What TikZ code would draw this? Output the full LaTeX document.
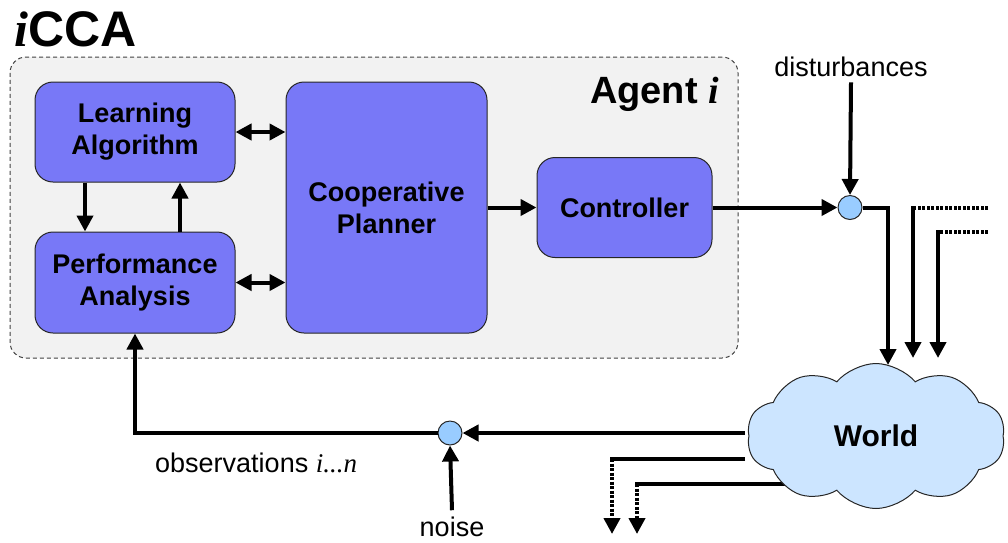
\documentclass[tikz,border=0pt]{standalone}
\usepackage{fontspec}
\setmainfont{Liberation Sans}
\newfontfamily\tnr{Liberation Serif}
\usetikzlibrary{arrows.meta,shapes.symbols,shapes.geometric}
\definecolor{boxblue}{RGB}{120,120,247}
\definecolor{sumblue}{RGB}{153,204,255}
\definecolor{cloudblue}{RGB}{204,229,255}
\definecolor{agentgray}{RGB}{242,242,242}
\tikzset{
  block/.style={draw=black!85,line width=1pt,fill=boxblue,rounded corners=18pt,align=center,
    font=\bfseries\fontsize{27}{32}\selectfont,inner sep=0pt},
  sumnode/.style={circle,draw=black!85,line width=1pt,fill=sumblue,minimum size=24pt,inner sep=0pt},
  tip/.style={-{Triangle[length=16pt,width=16pt]}},
  conn/.style={line width=4pt,tip},
  biconn/.style={line width=4pt,{Triangle[length=16pt,width=16pt]}-{Triangle[length=16pt,width=16pt]}},
  plainline/.style={line width=4pt},
  dotline/.style={line width=4pt,dash pattern=on 3pt off 1.5pt},
  lbl/.style={font=\fontsize{27}{32}\selectfont,inner sep=0pt}
}
\begin{document}
\begin{tikzpicture}[x=1pt,y=-1pt]
\useasboundingbox (0,0) rectangle (1008,542);
% container
\node[draw=black!75,dash pattern=on 4pt off 3pt,line width=1pt,fill=agentgray,rounded corners=16pt,
  minimum width=728pt,minimum height=301pt,inner sep=0pt] (agent) at (374,207.5) {};
\node[anchor=base west,inner sep=0pt,font=\bfseries\fontsize{50}{54}\selectfont] (title) at (14,46) {{\tnr\itshape i}CCA};
\node[anchor=base east,inner sep=0pt,font=\bfseries\fontsize{38}{42}\selectfont] (agentlbl) at (719,103) {Agent {\tnr\itshape i}};
% blocks
\node[block,minimum width=200pt,minimum height=100pt] (LA) at (135,132) {Learning\\Algorithm};
\node[block,minimum width=200pt,minimum height=101pt] (PA) at (135,282.5) {Performance\\Analysis};
\node[block,minimum width=201pt,minimum height=251pt] (CP) at (386.5,207.5) {Cooperative\\Planner};
\node[block,minimum width=175pt,minimum height=100pt] (CT) at (624.5,207.5) {Controller};
% internal connectors
\draw[biconn] (LA.east) -- (LA.east -| CP.west);
\draw[biconn] (PA.east) -- (PA.east -| CP.west);
\draw[conn] ([xshift=-50pt]LA.south) -- ([xshift=-50pt]PA.north);
\draw[conn] ([xshift=45pt]PA.north) -- ([xshift=45pt]LA.south);
\draw[conn] (CP.east |- CT.west) -- (CT.west);
% sums
\node[sumnode] (S1) at (850,207.5) {};
\node[sumnode] (S2) at (450,433) {};
\node[lbl,anchor=base] (dist) at (851,76) {disturbances};
\node[lbl,anchor=base] (noise) at (452,536) {noise};
\node[lbl,anchor=base west] (obs) at (155,472) {observations {\tnr\itshape i...n}};
\draw[conn] ([yshift=-6pt]dist.south) -- (S1.north);
\draw[conn] ([yshift=6pt]noise.north) -- (S2.south);
\draw[conn] (CT.east) -- (S1.west);
% world outputs
\coordinate (O1) at (745,433);
\coordinate (B1s) at (745,459);
\coordinate (B1c) at (612,459);
\coordinate (B1e) at (612,534);
\coordinate (B2s) at (790,484);
\coordinate (B2c) at (637,484);
\coordinate (B2e) at (637,534);
\draw[conn] (O1) -- (S2.east);
\draw[conn] (S2.west) -| (PA.south);
\draw[plainline] (B1s) -- ([xshift=-2pt]B1c);
\draw[dotline,tip] (B1c) -- (B1e);
\draw[plainline] (B2s) -- ([xshift=-2pt]B2c);
\draw[dotline,tip] (B2c) -- (B2e);
% world cloud
\node[cloud,cloud puffs=10,cloud puff arc=100,aspect=1.8,draw=black!85,line width=1pt,fill=cloudblue,
  minimum width=258pt,minimum height=145pt,inner sep=0pt,font=\bfseries\fontsize{30}{34}\selectfont] (W) at (876,436) {World};
% inputs to world
\coordinate (W1) at (888,365);
\coordinate (D1s) at (988,208);
\coordinate (D1c) at (913,208);
\coordinate (D1e) at (913,358);
\coordinate (D2s) at (988,232);
\coordinate (D2c) at (938,232);
\coordinate (D2e) at (938,358);
\draw[conn] (S1.east) -| (W1);
\draw[dotline] (D1s) -- ([xshift=2pt]D1c);
\draw[conn] ([yshift=2pt]D1c) -- (D1e);
\draw[dotline] (D2s) -- ([xshift=2pt]D2c);
\draw[conn] ([yshift=2pt]D2c) -- (D2e);
\end{tikzpicture}
\end{document}
